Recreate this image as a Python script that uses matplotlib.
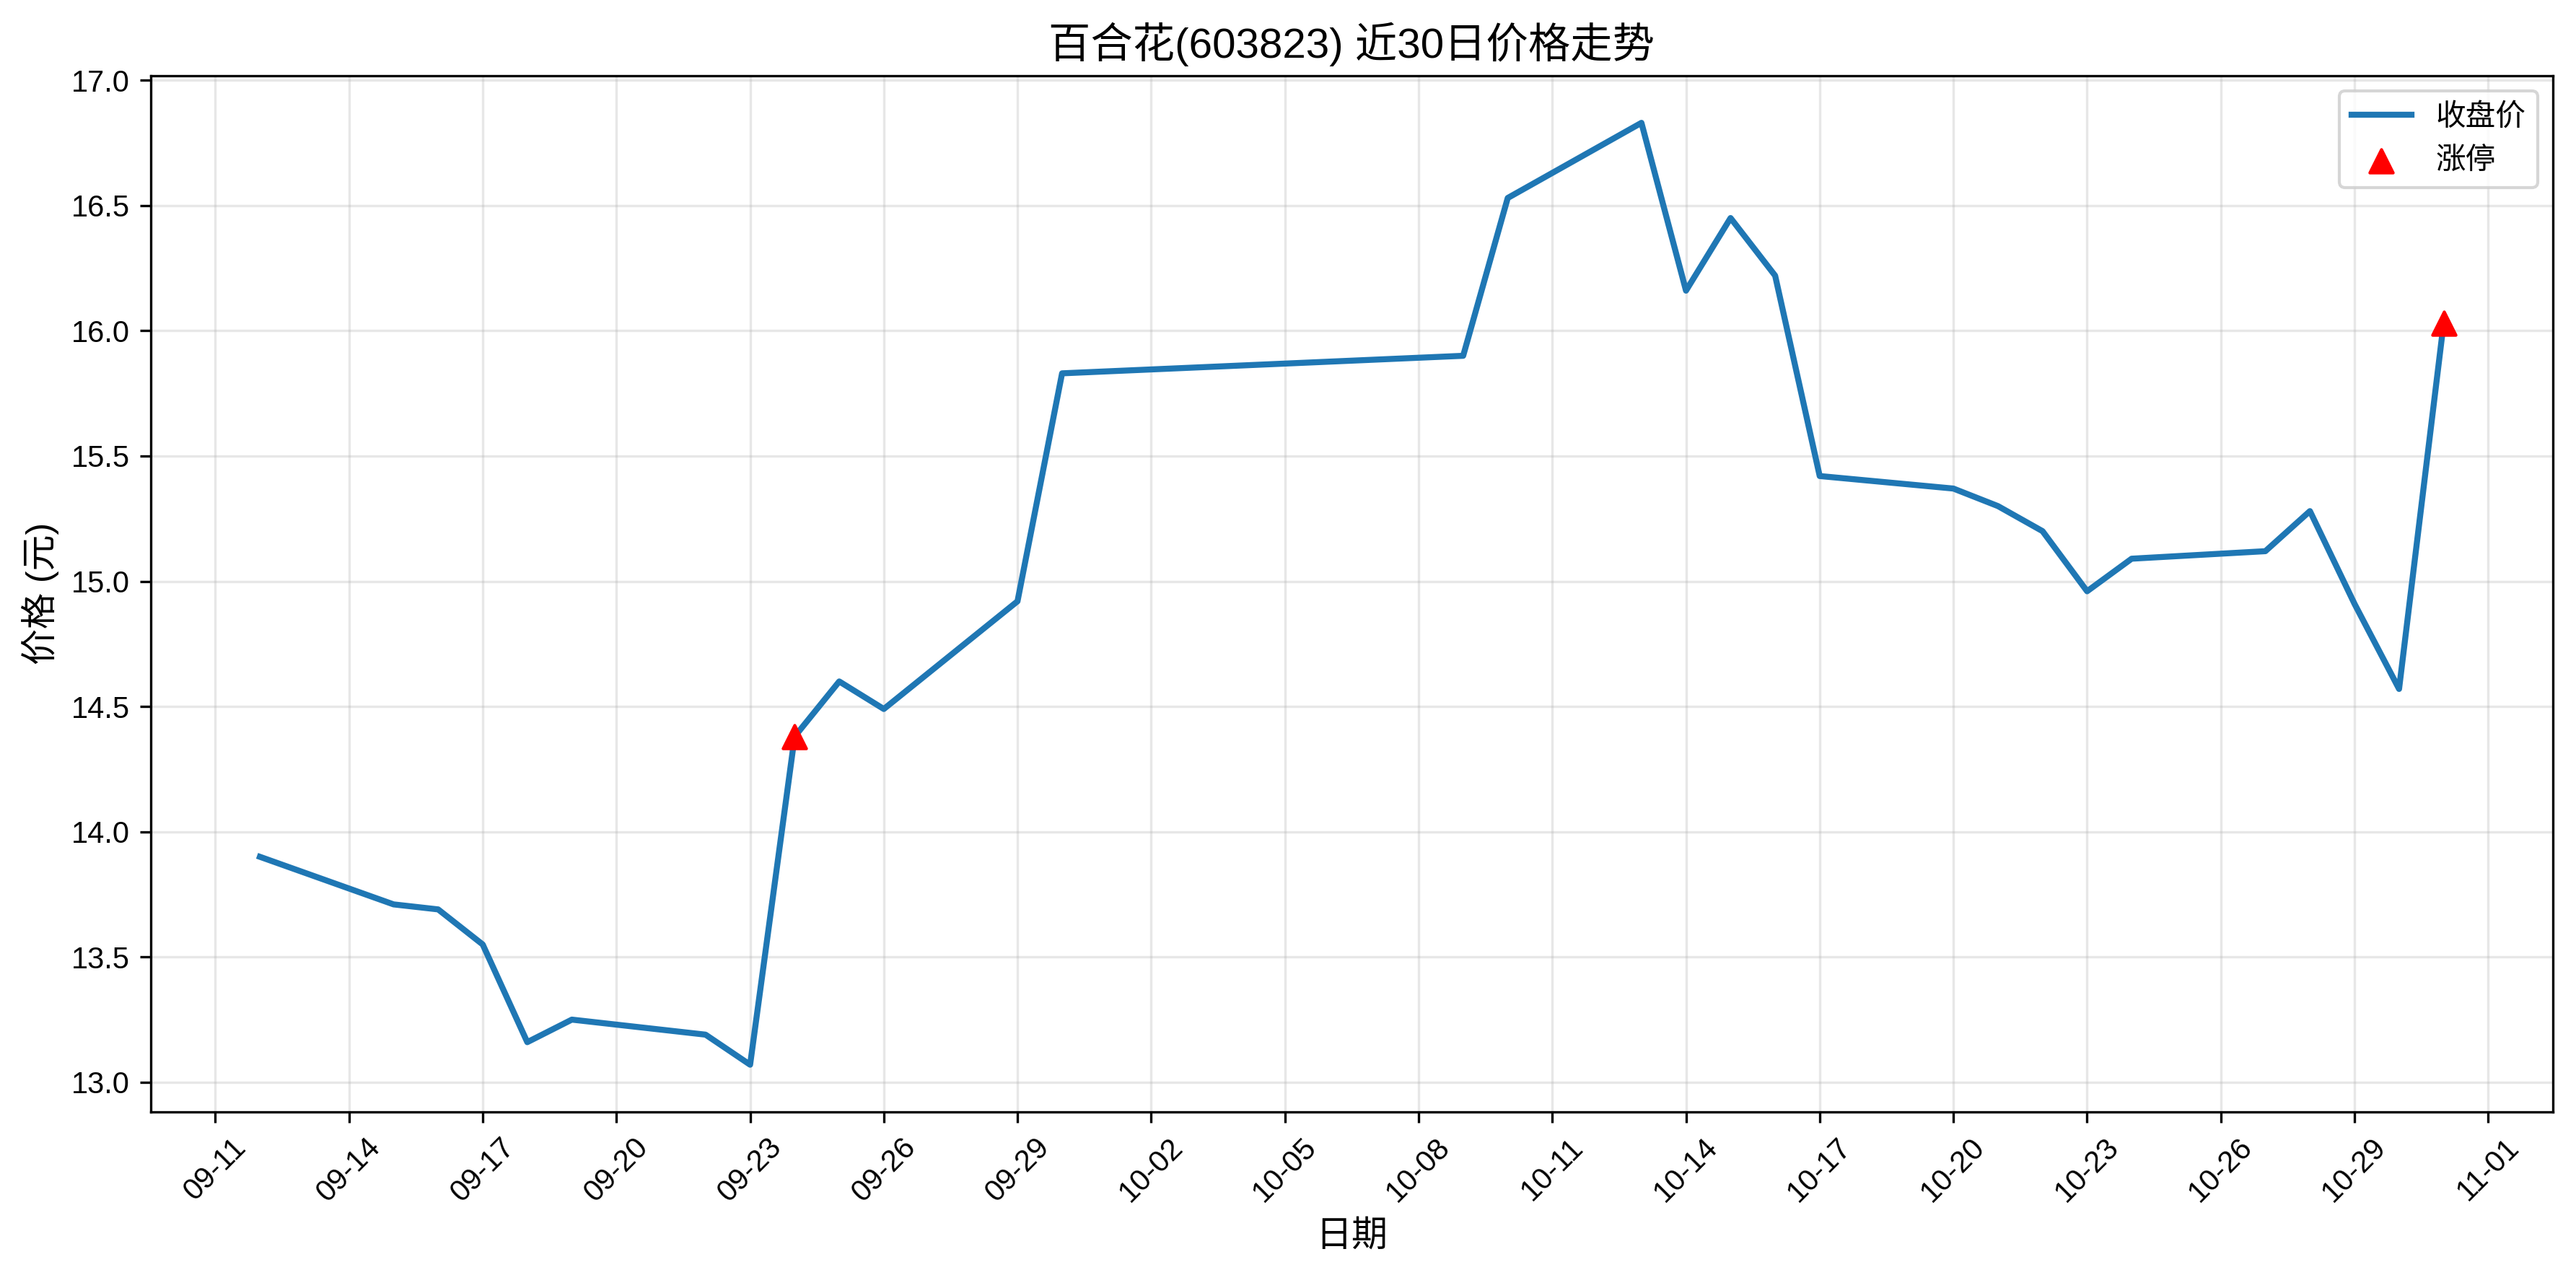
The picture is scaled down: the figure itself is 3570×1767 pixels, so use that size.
import matplotlib
matplotlib.use("Agg")
import matplotlib.pyplot as plt
import matplotlib.dates as mdates
import pandas as pd

plt.rcParams['font.family'] = ['Liberation Sans', 'Noto Sans CJK SC', 'DejaVu Sans']
plt.rcParams['axes.unicode_minus'] = False

dates = ["2025-09-12", "2025-09-15", "2025-09-16", "2025-09-17", "2025-09-18",
         "2025-09-19", "2025-09-22", "2025-09-23", "2025-09-24", "2025-09-25",
         "2025-09-26", "2025-09-29", "2025-09-30", "2025-10-09", "2025-10-10",
         "2025-10-13", "2025-10-14", "2025-10-15", "2025-10-16", "2025-10-17",
         "2025-10-20", "2025-10-21", "2025-10-22", "2025-10-23", "2025-10-24",
         "2025-10-27", "2025-10-28", "2025-10-29", "2025-10-30", "2025-10-31"]
close = [13.90, 13.71, 13.69, 13.55, 13.16,
         13.25, 13.19, 13.07, 14.38, 14.60,
         14.49, 14.92, 15.83, 15.90, 16.53,
         16.83, 16.16, 16.45, 16.22, 15.42,
         15.37, 15.30, 15.20, 14.96, 15.09,
         15.12, 15.28, 14.91, 14.57, 16.03]
limit_up_dates = ["2025-09-24", "2025-10-31"]
limit_up_prices = [14.38, 16.03]

x = pd.to_datetime(dates)
xl = pd.to_datetime(limit_up_dates)

fig = plt.figure(figsize=(11.9, 5.89), dpi=300)
ax = fig.add_subplot(111)
fig.subplots_adjust(left=0.0585, right=0.991, bottom=0.128, top=0.9406)

ax.plot(x, close, color='#1f77b4', linewidth=2, label='收盘价')
ax.scatter(xl, limit_up_prices, color='red', marker='^', s=60, zorder=5, label='涨停')

ax.set_title('百合花(603823) 近30日价格走势', fontsize=14)
ax.set_xlabel('日期', fontsize=12)
ax.set_ylabel('价格 (元)', fontsize=12)
ax.grid(True, alpha=0.3)
ax.legend(loc='upper right', fontsize=10)

ticks = pd.date_range("2025-09-11", "2025-11-01", freq="3D")
ax.set_xticks(ticks)
ax.xaxis.set_major_formatter(mdates.DateFormatter('%m-%d'))
plt.setp(ax.get_xticklabels(), rotation=45)

fig.savefig("out.png", dpi=300)
